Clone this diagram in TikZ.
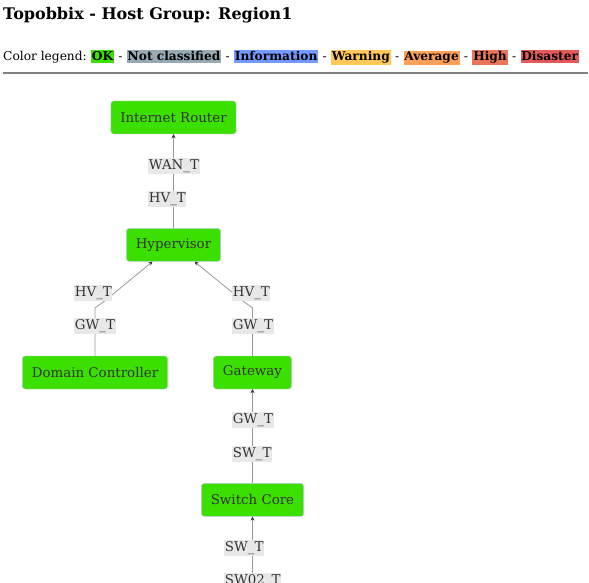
\documentclass[tikz,border=0pt]{standalone}
\usepackage{fontspec}
\setmainfont{DejaVu Serif}
\usetikzlibrary{positioning,arrows.meta}

\definecolor{okgreen}{HTML}{3CE000}
\definecolor{ncgray}{HTML}{97AAB3}
\definecolor{infoblue}{HTML}{7499FF}
\definecolor{warnyellow}{HTML}{FFC859}
\definecolor{avgorange}{HTML}{FFA059}
\definecolor{highred}{HTML}{E97659}
\definecolor{disred}{HTML}{E45959}
\definecolor{hostborder}{HTML}{B8CCE0}
\definecolor{lblgray}{HTML}{E8E8E8}
\definecolor{txtdark}{HTML}{333333}
\definecolor{edgegray}{HTML}{999999}

\begin{document}
\begin{tikzpicture}[
    x=1pt, y=-1pt,
    host/.style={rectangle, draw=hostborder, fill=okgreen, rounded corners=3pt, minimum height=33pt, inner xsep=9.5pt, text=txtdark, font=\fontsize{13.4}{15}\selectfont},
    elabel/.style={fill=lblgray, inner xsep=0.5pt, inner ysep=1.5pt, anchor=west, yshift=-1pt, text=txtdark, font=\fontsize{13.4}{15}\selectfont},
    edge/.style={-{Stealth[length=4pt, width=4pt, color=txtdark]}, draw=edgegray, line width=0.8pt},
    sev/.style={inner xsep=0.8pt, inner ysep=1.5pt, font=\fontsize{12.2}{14}\bfseries},
    sep/.style={inner xsep=4pt, inner ysep=1.5pt, font=\fontsize{12.2}{14}\selectfont}
]
\useasboundingbox (0,0) rectangle (589,583);

% Header
\node[anchor=base west, inner sep=0pt, font=\fontsize{16}{18}\bfseries] (title) at (3,20) {Topobbix - Host Group: Region1};
\node[anchor=base west, inner sep=0pt, font=\fontsize{12.2}{14}\selectfont] (leg) at (3,61) {Color legend:};
\node[sev, fill=okgreen, base right=4pt of leg] (ok) {OK};
\foreach \n/\c/\t [remember=\n as \prev (initially ok)] in {nc/ncgray/Not classified, info/infoblue/Information, warn/warnyellow/Warning, avg/avgorange/Average, high/highred/High, dis/disred/Disaster}{
    \node[sep, base right=0pt of \prev] (\n sep) {-};
    \node[sev, fill=\c, base right=0pt of \n sep] (\n) {\t};
}
\draw[gray, line width=1.5pt] (3,73) -- (588,73);

% Hosts
\node[host] (router) at (173.5,117.5) {Internet Router};
\node[host, below=94pt of router] (hyp) {Hypervisor};
\node[host] (dc) at (95,372.5) {Domain Controller};
\node[host] (gw) at (252.5,372.5) {Gateway};
\node[host, below=94pt of gw] (core) {Switch Core};
\coordinate (sw02) at (252.5,610);

% Links
\draw[edge] (hyp) -- (router)
    node[elabel] at (148,198) {HV\_T}
    node[elabel] at (148,165) {WAN\_T};
\draw[edge] (dc.north) -- ++(0,-48) -- ++(10,-7) -- ([xshift=-21pt]hyp.south)
    node[elabel] at (74,325) {GW\_T}
    node[elabel] at (74,292) {HV\_T};
\draw[edge] (gw.north) -- ++(0,-48) -- ++(-10,-7) -- ([xshift=21pt]hyp.south)
    node[elabel] at (232,325) {GW\_T}
    node[elabel] at (232,292) {HV\_T};
\draw[edge] (core) -- (gw)
    node[elabel] at (232,453) {SW\_T}
    node[elabel] at (232,419) {GW\_T};
\draw[edge] (sw02) -- (core)
    node[elabel] at (224,580) {SW02\_T}
    node[elabel] at (224,547) {SW\_T};

\end{tikzpicture}
\end{document}
